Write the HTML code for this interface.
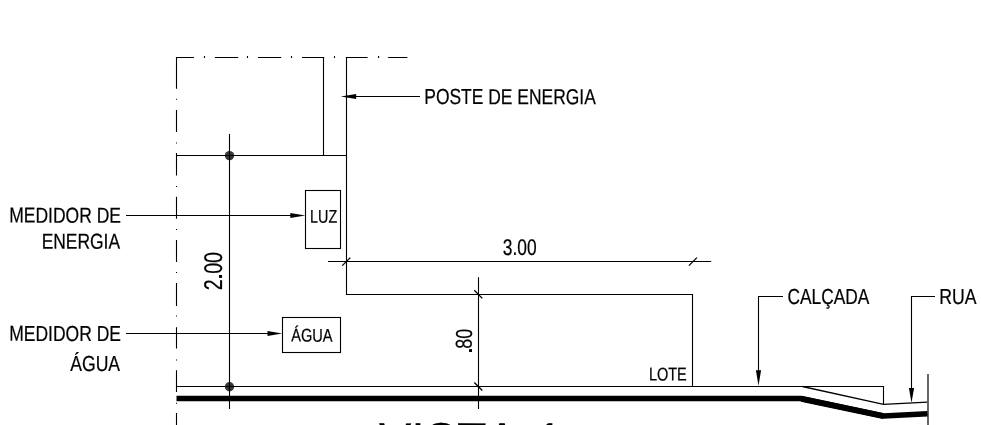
<!DOCTYPE html>
<html lang="pt">
<head>
<meta charset="utf-8">
<title>VISTA 1</title>
<style>
html,body{margin:0;padding:0;background:#fff;}
body{width:981px;height:425px;overflow:hidden;}
svg{display:block;will-change:transform;}
text{font-family:"Liberation Sans",sans-serif;fill:#000;text-rendering:geometricPrecision;stroke:#000;stroke-width:0.22px;}
.l{stroke:#000;stroke-width:1.1;fill:none;}
.t{stroke:#000;stroke-width:1.3;fill:none;}
.k{stroke:#000;stroke-width:5.5;fill:none;stroke-linejoin:miter;}
.a{fill:#000;stroke:none;}
</style>
</head>
<body>
<svg width="981" height="425" viewBox="0 0 981 425">
<rect width="981" height="425" fill="#fff"/>

<!-- dash-dot boundary: top -->
<g class="l">
<path d="M176 57.5H193.9 M214.9 57.5H238.2 M258 57.5H281.2 M302 57.5H324.2 M345.8 57.5H367.6 M388.2 57.5H407.4"/>
<path d="M204.5 55.9v2.1 M247.5 55.9v2.1 M291.5 55.9v2.1 M334.5 55.9v2.1 M378.6 55.9v2.1"/>
<!-- dash-dot boundary: left -->
<path d="M176.5 57V88.8 M176.5 110V132 M176.5 152.9V175.6 M176.5 196.7V218.7 M176.5 240V262 M176.5 283V306 M176.5 327.3V348.5 M176.5 370.3V392 M176.5 413V425"/>
<path d="M176.5 98.7v1 M176.5 142.6v1 M176.5 185.9v1 M176.5 229.1v1 M176.5 271.9v1 M176.5 315.4v1 M176.5 359.6v1 M176.5 402.8v1"/>
</g>

<!-- dots (drawn under the lines) -->
<circle cx="229.5" cy="155.6" r="4.7" fill="#000" fill-opacity="0.78"/>
<circle cx="229.5" cy="386.8" r="4.7" fill="#000" fill-opacity="0.78"/>

<!-- main outline -->
<g class="l">
<path d="M323.5 57.5V155.5"/>
<path d="M346.5 57.5V294.5H692.5V386.5"/>
<path d="M176.5 155.5H346.5"/>
<path d="M176.5 386.5H883.5V404.3"/>
<path d="M802.4 386.5L883.5 404.3L927.5 402.2" stroke-width="1.35"/>
<!-- boxes -->
<rect x="305.5" y="190.5" width="35" height="58"/>
<rect x="282.5" y="317.5" width="58" height="35"/>
<!-- dimension lines -->
<path d="M229.5 134V409"/>
<path d="M328 261.5H711.2"/>
<path d="M478.5 277.2V409"/>
<!-- leaders -->
<path d="M126 215.5H292"/>
<path d="M126 333.5H270"/>
<path d="M355 96.5H420"/>
<path d="M783 296.5H758.5V372"/>
<path d="M935 296.5H911.5V390"/>
</g>
<path d="M928 374V425" stroke="#555" stroke-width="1.8" fill="none"/>

<!-- ticks -->
<g class="t">
<path d="M342.3 265.6L350.3 257.6"/>
<path d="M688.9 265.6L696.9 257.6"/>
<path d="M474.3 290.3L482.3 298.4"/>
<path d="M474.3 382.5L482.3 390.5"/>
</g>

<!-- arrowheads -->
<g class="a">
<path d="M340.7 96.5L356.2 94V99Z"/>
<path d="M305.3 215.5L290.3 213V218Z"/>
<path d="M282.3 333.5L267.5 331V336Z"/>
<path d="M758.5 385.8L755.9 370.2H761.1Z"/>
<path d="M911.5 402.7L908.9 388.1H914.1Z"/>
</g>

<!-- thick ground line -->
<path class="k" d="M176.5 398.6H801.4L883.5 416L927.5 413.8"/>
<path d="M801.4 398.9L883.5 416.1" stroke="#000" stroke-width="6" fill="none"/>

<!-- decimal points (squared, as plotted) -->
<rect class="a" x="469.1" y="349.1" width="2.9" height="2.8"/>
<rect class="a" x="219.1" y="275" width="2.8" height="2.8"/>
<!-- text -->
<text transform="translate(424.28,104.07) rotate(0.05) scale(0.8000,1)" font-size="21.80">POSTE DE ENERGIA</text>
<text transform="translate(9.14,222.61) rotate(0.05) scale(0.8031,1)" font-size="21.80">MEDIDOR DE</text>
<text transform="translate(41.63,248.81) rotate(0.05) scale(0.7987,1)" font-size="21.80">ENERGIA</text>
<text transform="translate(9.14,340.87) rotate(0.05) scale(0.8031,1)" font-size="21.80">MEDIDOR DE</text>
<text transform="translate(70.22,371.00) rotate(0.05) scale(0.8069,1)" font-size="21.80">ÁGUA</text>
<text transform="translate(502.79,255.05) rotate(0.05) scale(0.7676,1)" font-size="22.60">3.00</text>
<text transform="translate(787.38,303.95) rotate(0.05) scale(0.7962,1)" font-size="21.80">CALÇADA</text>
<text transform="translate(939.21,303.95) rotate(0.05) scale(0.8083,1)" font-size="21.80">RUA</text>
<text transform="translate(310.10,222.74) rotate(0.05) scale(0.7800,1)" font-size="18.40">LUZ</text>
<text transform="translate(291.21,341.61) rotate(0.05) scale(0.7926,1)" font-size="18.40">ÁGUA</text>
<text transform="translate(648.88,380.57) rotate(0.05) scale(0.7896,1)" font-size="18.40">LOTE</text>
<text transform="translate(221.89,290.20) rotate(-89.95) scale(0.7658,1)" font-size="25.65">2.00</text>
<text transform="translate(471.87,353.59) rotate(-89.95) scale(0.7728,1)" font-size="23.10">.80</text>
<text transform="translate(379.00,463.20) rotate(0.05) scale(0.8330,1)" font-size="58.00" dx="0 0 0 0 3.6 8.4 0">VISTA 1</text>
</svg>
</body>
</html>
